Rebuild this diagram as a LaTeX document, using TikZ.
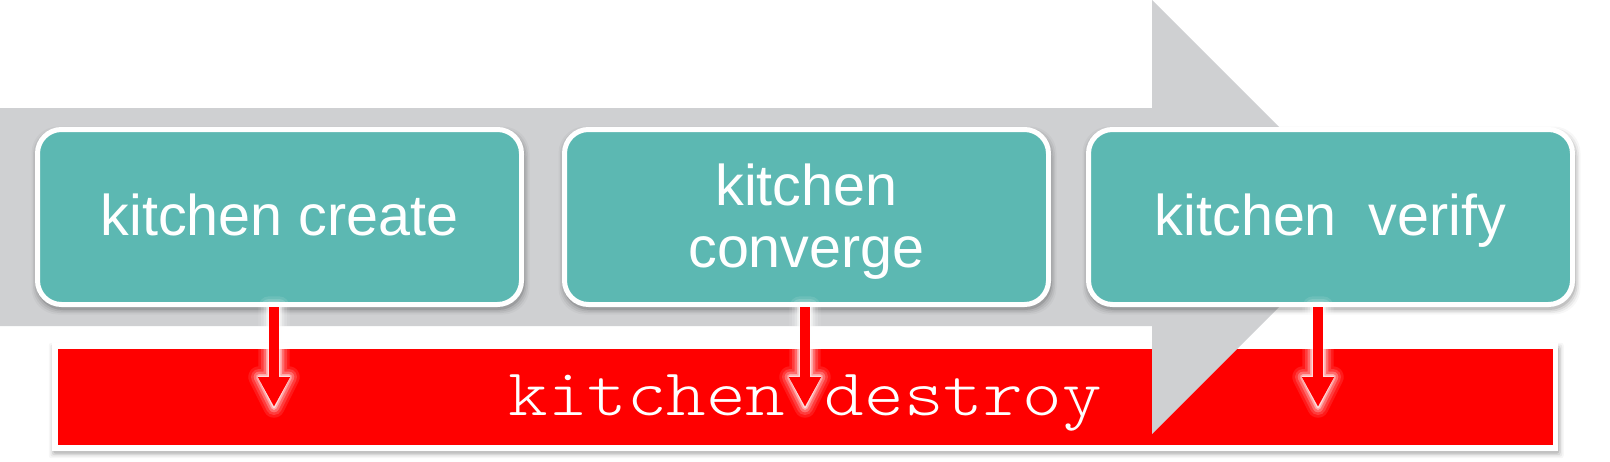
\documentclass[tikz,border=0pt]{standalone}
\usepackage{fontspec}
\setmainfont{Liberation Sans}
\newfontfamily\destroyfont[FakeStretch=1.13]{lmmonolt10-regular.otf}
\usetikzlibrary{calc,arrows.meta}
\definecolor{arrowgray}{HTML}{CFD0D2}
\definecolor{tealbox}{HTML}{5CB8B2}
\definecolor{barred}{HTML}{FF0000}
\newcommand\softshadow[2]{% #1 node, #2 corner radius
  \foreach \e/\o in {0/0.10,1.5/0.07,3/0.05,4.5/0.03}{
    \fill[black, opacity=\o, rounded corners=#2]
      ($(#1.south west)+(-\e+1,\e+3)$) rectangle ($(#1.north east)+(\e+1,-\e+4)$);
  }}
\newcommand\arrowglow[2]{% #1 start, #2 tip
  \foreach \w/\o in {16/0.10,12/0.15,8/0.25,4.5/0.4,2/0.6}{
    \draw[white, line width=\w pt, opacity=\o, line join=round]
      ($(#1)+(-5,0)$) -- ($(#2)+(-5,-30)$) -- ($(#2)+(-15,-30)$) -- (#2)
      -- ($(#2)+(15,-30)$) -- ($(#2)+(5,-30)$) -- ($(#1)+(5,0)$) -- cycle;
  }}
\begin{document}
\begin{tikzpicture}[x=0.75pt,y=-0.75pt,
  stepbox/.style={rounded corners=18pt, fill=tealbox, draw=white, line width=3.75pt,
    minimum width=363pt, minimum height=131.25pt, inner sep=0pt, text=white,
    align=center, font=\fontsize{43.1pt}{42pt}\selectfont},
  oneline/.style={text height=33pt, text depth=6pt},
  destroybar/.style={fill=barred, draw=white, line width=4.1pt,
    minimum width=1125.4pt, minimum height=76.5pt, inner sep=0pt, text=white,
    font=\destroyfont\fontsize{50pt}{50pt}\selectfont,
    text height=32pt, text depth=4pt},
  flowarrow/.style={draw=barred, line width=7.5pt,
    -{Triangle[width=22.5pt,length=22.5pt]}},
]
\useasboundingbox (0,0) rectangle (1610,461);
\fill[white] (0,0) rectangle (1610,461);

% red bar
\node[destroybar, opacity=0] (ghost) at (805.25,397) {};
\softshadow{ghost}{2pt}
\node[destroybar] (destroy) at (805.25,397) {kitchen destroy};

% big gray process arrow
\fill[arrowgray] (0,108) -- (1152,108) -- (1152,0) -- (1369,217)
  -- (1152,434) -- (1152,326) -- (0,326) -- cycle;

% step boxes
\node[stepbox, opacity=0] (g1) at (279.5,217) {};
\node[stepbox, opacity=0] (g2) at (806.5,217) {};
\node[stepbox, opacity=0] (g3) at (1330.5,217) {};
\softshadow{g1}{20pt}
\softshadow{g2}{20pt}
\softshadow{g3}{20pt}
\node[stepbox, oneline] (create) at (279.5,217) {kitchen create};
\node[stepbox] (converge) at (806.5,217) {\rule{0pt}{38pt}kitchen\\[4pt]converge};
\node[stepbox, oneline] (verify) at (1330.5,217) {kitchen\ \ verify};

% red arrows into the destroy bar
\coordinate (t1) at (274,407);
\coordinate (t2) at (805,407);
\coordinate (t3) at (1318,407);
\coordinate (s1) at (create.south -| t1);
\coordinate (s2) at (converge.south -| t2);
\coordinate (s3) at (verify.south -| t3);
\arrowglow{s1}{t1}
\arrowglow{s2}{t2}
\arrowglow{s3}{t3}
\draw[flowarrow] (s1) -- (t1);
\draw[flowarrow] (s2) -- (t2);
\draw[flowarrow] (s3) -- (t3);
\end{tikzpicture}
\end{document}
